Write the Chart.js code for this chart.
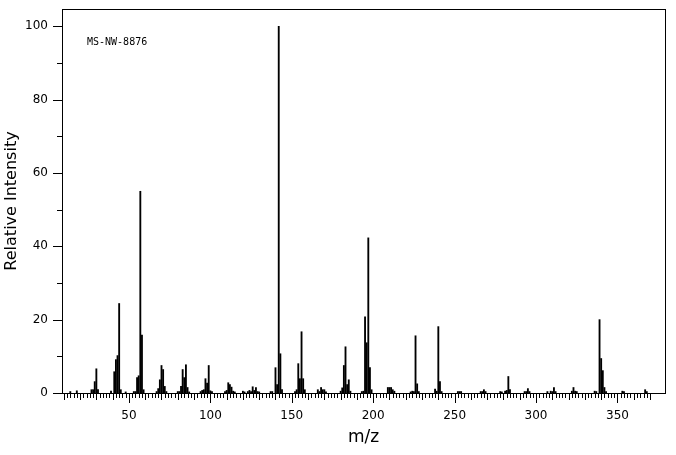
<!DOCTYPE html>
<html>
<head>
<meta charset="utf-8">
<script src="https://cdn.jsdelivr.net/npm/chart.js@4/dist/chart.umd.min.js"></script>
<style>
  html, body { margin: 0; padding: 0; background: #fff; }
  canvas { display: block; }
</style>
</head>
<body>
<canvas id="spectrum" width="676" height="455"></canvas>
<script>
// peaks (m/z, relative intensity)
var mzValues = [14, 18, 27, 28, 29, 30, 31, 39, 41, 42, 43, 44, 45, 48, 53, 54, 55, 56, 57, 58, 59,
  67, 68, 69, 70, 71, 72, 73, 80, 81, 82, 83, 84, 85, 86, 87, 94, 95, 96, 97, 98, 99, 100, 101,
  109, 110, 111, 112, 113, 114, 115, 120, 121, 123, 124, 125, 126, 127, 128, 129, 130,
  137, 138, 140, 141, 142, 143, 144, 152, 153, 154, 155, 156, 157, 158, 166, 167, 168, 169, 170, 171,
  180, 181, 182, 183, 184, 185, 186, 193, 194, 195, 196, 197, 198, 199, 209, 210, 211, 212, 213,
  223, 224, 225, 226, 227, 228, 238, 239, 240, 241, 242, 252, 253, 254, 266, 267, 268, 269,
  278, 279, 281, 282, 283, 284, 293, 294, 295, 296, 307, 309, 310, 311, 312, 322, 323, 324, 325,
  336, 337, 339, 340, 341, 342, 343, 353, 354, 367, 368];
var intensities = [0.4, 0.6, 0.9, 0.9, 3.1, 6.6, 0.9, 0.5, 5.8, 9.1, 10.2, 24.4, 0.9, 0.3, 0.4, 0.4, 4.2, 4.7, 55.0, 15.8, 0.9,
  0.4, 1.2, 3.6, 7.5, 6.4, 1.8, 0.4, 0.4, 0.4, 1.8, 6.4, 4.2, 7.7, 1.5, 0.3, 0.4, 0.7, 0.9, 3.9, 2.7, 7.5, 0.6, 0.4,
  0.4, 0.7, 2.8, 2.3, 1.6, 0.5, 0.3, 0.5, 0.3, 0.4, 0.7, 0.4, 1.7, 0.7, 1.5, 0.4, 0.3,
  0.4, 0.4, 6.9, 2.3, 100, 10.7, 0.9, 0.4, 0.9, 8.0, 3.9, 16.7, 3.9, 0.9, 0.9, 0.4, 1.5, 0.9, 0.9, 0.3,
  0.5, 1.4, 7.5, 12.6, 2.3, 3.6, 0.5, 0.4, 0.5, 20.8, 13.7, 42.3, 6.9, 0.9, 1.5, 1.5, 1.5, 0.9, 0.5,
  0.3, 0.5, 0.4, 15.6, 2.5, 0.4, 1.1, 0.5, 18.1, 3.1, 0.4, 0.4, 0.4, 0.4, 0.4, 0.4, 0.9, 0.4,
  0.4, 0.3, 0.5, 0.7, 4.5, 0.9, 0.4, 0.4, 1.2, 0.4, 0.4, 0.5, 0.4, 1.5, 0.4, 0.5, 1.5, 0.5, 0.4,
  0.5, 0.4, 20.0, 9.4, 6.1, 1.5, 0.4, 0.5, 0.4, 0.9, 0.4];
var xTickLabels = [50, 100, 150, 200, 250, 300, 350];
var yTickLabels = [0, 20, 40, 60, 80, 100];
var sampleId = 'MS-NW-8876';

// tick marks of different length + frame box + sample id
var frameAndTicks = {
  id: 'frameAndTicks',
  afterDraw: function (chart) {
    var ctx = chart.ctx, a = chart.chartArea, x = chart.scales.x, y = chart.scales.y;
    var left = Math.round(a.left), right = Math.round(a.right);
    var top = Math.round(a.top), bottom = Math.round(a.bottom);
    ctx.save();
    ctx.strokeStyle = '#000';
    ctx.lineWidth = 1;
    ctx.strokeRect(left + 0.5, top + 0.5, right - left, bottom - top);
    ctx.beginPath();
    for (var v = 10; v <= 370; v += 2) {
      var px = Math.round(x.getPixelForValue(v)) + 0.5;
      var len = v % 50 === 0 ? 10 : (v % 10 === 0 ? 7 : 5);
      ctx.moveTo(px, bottom);
      ctx.lineTo(px, bottom + len);
    }
    for (var w = 0; w <= 100; w += 10) {
      var py = Math.round(y.getPixelForValue(w)) + 0.5;
      var l2 = w % 20 === 0 ? 9 : 5;
      ctx.moveTo(left, py);
      ctx.lineTo(left - l2, py);
    }
    ctx.stroke();
    ctx.fillStyle = '#000';
    ctx.font = '10px "DejaVu Sans Mono"';
    ctx.textBaseline = 'alphabetic';
    ctx.fillText(sampleId, 87, 45);
    ctx.restore();
  }
};

Chart.defaults.font.family = '"DejaVu Sans"';
Chart.defaults.color = '#000';

new Chart(document.getElementById('spectrum').getContext('2d'), {
  type: 'bar',
  data: {
    datasets: [{
      data: mzValues.map(function (m, i) { return { x: m, y: intensities[i] }; }),
      backgroundColor: '#000',
      borderWidth: 0,
      barThickness: 1.2
    }]
  },
  options: {
    responsive: false,
    animation: false,
    layout: { padding: { top: 9, right: 11, left: 0, bottom: 0 } },
    plugins: {
      legend: { display: false },
      tooltip: { enabled: false }
    },
    scales: {
      x: {
        type: 'linear',
        min: 8.9,
        max: 379.2,
        offset: false,
        grid: { display: false, drawTicks: false },
        border: { display: false },
        afterBuildTicks: function (s) { s.ticks = xTickLabels.map(function (v) { return { value: v }; }); },
        afterFit: function (s) { s.height = 62; s.paddingLeft = 0; s.paddingRight = 0; },
        ticks: { padding: 16, maxRotation: 0, autoSkip: false, font: { size: 12 } },
        title: { display: true, text: 'm/z', font: { size: 17 }, padding: { top: 0, bottom: 7 } }
      },
      y: {
        min: 0,
        max: 104.7,
        grid: { display: false, drawTicks: false },
        border: { display: false },
        afterBuildTicks: function (s) { s.ticks = yTickLabels.map(function (v) { return { value: v }; }); },
        afterFit: function (s) { s.width = 62; s.paddingTop = 0; s.paddingBottom = 0; },
        ticks: { padding: 14, autoSkip: false, font: { size: 12 } },
        title: { display: true, text: 'Relative Intensity', font: { size: 16 }, padding: { top: 2, bottom: 0 } }
      }
    }
  },
  plugins: [frameAndTicks]
});
</script>
</body>
</html>
